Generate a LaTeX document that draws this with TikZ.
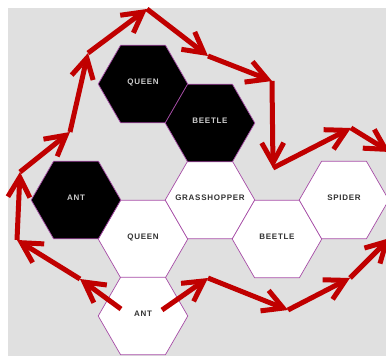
\documentclass[tikz,border=0pt]{standalone}
\usepackage{fontspec}
\newfontfamily\tilefont[LetterSpace=9]{Liberation Sans}
\usetikzlibrary{shapes.geometric,arrows.meta}
\definecolor{hivegray}{HTML}{E0E0E0}
\definecolor{hiveedge}{HTML}{A64CA6}
\definecolor{movered}{HTML}{C00000}
\begin{document}
\begin{tikzpicture}[x=1pt,y=-1pt]

        \useasboundingbox (0,0) rectangle (386,356);
        \clip (0,0) rectangle (386,356);
        \fill[hivegray] (8,8) rectangle (386,356);

        \begin{scope}[every node/.style={regular polygon, regular polygon sides=6,
            minimum size=89.6pt, inner sep=-20pt, text depth=5pt,
            draw=hiveedge, line width=0.7pt, fill=white, text=black!80,
            font=\tilefont\bfseries\fontsize{8}{9}\selectfont}]
          \node (queen)  at (143,239) {QUEEN};
          \node (grass)  at (210,200) {GRASSHOPPER};
          \node (beetle) at (277,239) {BEETLE};
          \node (spider) at (344,200) {SPIDER};
          \node (ant)    at (143,316) {ANT};
          \begin{scope}[every node/.append style={fill=black, text=black!20}]
            \node (bqueen)  at (143,84)  {QUEEN};
            \node (bbeetle) at (210,123) {BEETLE};
            \node (bant)    at (76,200)  {ANT};
          \end{scope}
        \end{scope}

        % the ant's way round the hive
        \coordinate (p0)  at (121,309);
        \coordinate (p1)  at (80,279);
        \coordinate (p2)  at (17,240);
        \coordinate (p3)  at (20,172);
        \coordinate (p4)  at (70,132);
        \coordinate (p5)  at (88,53);
        \coordinate (p6)  at (147,9);
        \coordinate (p7)  at (208,56);
        \coordinate (p8)  at (272,81);
        \coordinate (p9)  at (273,168);
        \coordinate (p10) at (351,128);
        \coordinate (p11) at (390,152);

        \coordinate (q0) at (162,310);
        \coordinate (q1) at (208,278);
        \coordinate (q2) at (288,310);
        \coordinate (q3) at (350,278);
        \coordinate (q4) at (390,238);

        \begin{scope}[every edge/.style={draw=movered, line width=5pt,
            -{Straight Barb[length=20pt,width=22pt]}}]
          \path (p0) edge (p1) (p1) edge (p2) (p2) edge (p3) (p3) edge (p4);
          \path (p4) edge (p5) (p5) edge (p6) (p6) edge (p7) (p7) edge (p8);
          \path (p8) edge (p9) (p9) edge (p10) (p10) edge (p11);
          \path (q0) edge (q1) (q1) edge (q2) (q2) edge (q3) (q3) edge (q4);
        \end{scope}

      \end{tikzpicture}
\end{document}
